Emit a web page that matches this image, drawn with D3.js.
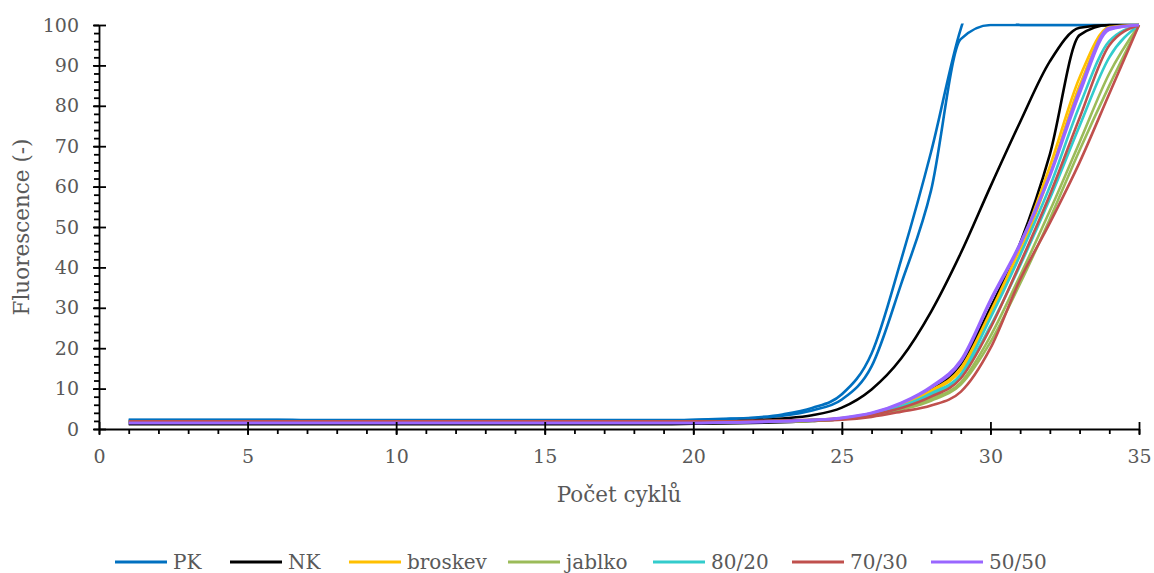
<!DOCTYPE html>
<html>
<head>
<meta charset="utf-8">
<script src="https://cdn.jsdelivr.net/npm/d3@7"></script>
<style>
  body { margin: 0; background: #fff; }
</style>
</head>
<body>
<svg id="chart" width="1154" height="573"></svg>
<script>
// cycle numbers (x axis)
const cycles = [1,2,3,4,5,6,7,8,9,10,11,12,13,14,15,16,17,18,19,20,21,22,23,24,25,26,27,28,29,30,31,32,33,34,35];

// fluorescence per cycle, two replicates for each sample
const pk1 = [2.3,2.3,2.3,2.3,2.3,2.3,2.2,2.2,2.2,2.2,2.2,2.2,2.2,2.2,2.2,2.2,2.2,2.2,2.2,2.3,2.5,2.8,3.6,5.2,8.6,18.7,42,68.5,99,115,100,100,100,100,100];
const pk2 = [2.2,2.2,2.2,2.2,2.2,2.2,2.1,2.1,2.1,2.1,2.1,2.1,2.1,2.1,2.1,2.1,2.1,2.1,2.1,2.2,2.4,2.7,3.3,4.6,7.3,15.5,36,59,96.5,100,100,100,100,100,100];
const nk1 = [1.4,1.4,1.4,1.4,1.4,1.4,1.4,1.4,1.4,1.4,1.4,1.4,1.4,1.4,1.4,1.4,1.4,1.4,1.4,1.6,1.8,2.1,2.6,3.4,5.3,9.8,17.5,29,43.5,60,76,91,99.3,100,100];
const nk2 = [1.2,1.2,1.2,1.2,1.2,1.2,1.2,1.2,1.2,1.2,1.2,1.2,1.2,1.2,1.2,1.2,1.2,1.2,1.2,1.3,1.4,1.5,1.7,2.0,2.5,3.7,5.8,9.5,16,30,46,68,97.5,100,100];
const broskev1 = [1.6,1.6,1.6,1.6,1.6,1.6,1.6,1.6,1.6,1.6,1.6,1.6,1.6,1.6,1.6,1.6,1.6,1.6,1.6,1.6,1.7,1.8,1.9,2.2,2.7,3.8,6.0,9.5,15,29,45,65,87,99.5,100];
const broskev2 = [1.6,1.6,1.6,1.6,1.6,1.6,1.6,1.6,1.6,1.6,1.6,1.6,1.6,1.6,1.6,1.6,1.6,1.6,1.6,1.6,1.7,1.8,1.9,2.1,2.6,3.7,5.8,9.2,14.5,28,43.5,63,85,99,100];
const jablko1 = [1.6,1.6,1.6,1.6,1.6,1.6,1.6,1.6,1.6,1.6,1.6,1.6,1.6,1.6,1.6,1.6,1.6,1.6,1.6,1.6,1.7,1.8,1.9,2.1,2.5,3.3,5.0,7.5,11.5,23,38,54,71,88,100];
const jablko2 = [1.6,1.6,1.6,1.6,1.6,1.6,1.6,1.6,1.6,1.6,1.6,1.6,1.6,1.6,1.6,1.6,1.6,1.6,1.6,1.6,1.7,1.8,1.9,2.0,2.4,3.2,4.8,7.0,11,21.5,36,52,69,85,100];
const k8020a = [1.7,1.7,1.7,1.7,1.7,1.7,1.7,1.7,1.7,1.7,1.7,1.7,1.7,1.7,1.7,1.7,1.7,1.7,1.7,1.7,1.8,1.9,2.0,2.2,2.6,3.6,5.6,8.8,13.5,27.5,43,60,80,96,100];
const k8020b = [1.7,1.7,1.7,1.7,1.7,1.7,1.7,1.7,1.7,1.7,1.7,1.7,1.7,1.7,1.7,1.7,1.7,1.7,1.7,1.7,1.8,1.9,2.0,2.2,2.5,3.5,5.3,8.3,13,25.5,40.5,57,75,92,100];
const k7030a = [1.9,1.9,1.9,1.9,1.9,1.9,1.9,1.9,1.9,1.9,1.9,1.9,1.9,1.9,1.9,1.9,1.9,1.9,1.9,1.9,1.9,2.0,2.1,2.3,2.6,3.5,5.2,8.0,12.5,25,41,58,77,95,100];
const k7030b = [1.8,1.8,1.8,1.8,1.8,1.8,1.8,1.8,1.8,1.8,1.8,1.8,1.8,1.8,1.8,1.8,1.8,1.8,1.8,1.8,1.8,1.9,2.0,2.1,2.3,3.0,4.3,5.8,9.2,20,37,51,66,83,100];
const k5050a = [1.5,1.5,1.5,1.5,1.5,1.5,1.5,1.5,1.5,1.5,1.5,1.5,1.5,1.5,1.5,1.5,1.5,1.5,1.5,1.5,1.6,1.7,1.9,2.2,2.8,4.0,6.5,10.5,17,32,46,63,84,99.3,100];
const k5050b = [1.5,1.5,1.5,1.5,1.5,1.5,1.5,1.5,1.5,1.5,1.5,1.5,1.5,1.5,1.5,1.5,1.5,1.5,1.5,1.5,1.6,1.7,1.9,2.2,2.7,3.9,6.3,10.2,16.5,31.5,45.5,62.5,83,98.8,100];

const legendNames = ["PK", "NK", "broskev", "jablko", "80/20", "70/30", "50/50"];
const legendColors = ["#0070C0", "#000000", "#FFC000", "#9BBB59", "#33CCCC", "#C0504D", "#9966FF"];

const xTicks = [0, 5, 10, 15, 20, 25, 30, 35];
const yTicks = [0, 10, 20, 30, 40, 50, 60, 70, 80, 90, 100];

// drawing order (later lines on top)
const lines = [
    {values: pk1, color: legendColors[0]},
    {values: pk2, color: legendColors[0]},
    {values: nk1, color: legendColors[1]},
    {values: nk2, color: legendColors[1]},
    {values: broskev1, color: legendColors[2]},
    {values: broskev2, color: legendColors[2]},
    {values: jablko1, color: legendColors[3]},
    {values: jablko2, color: legendColors[3]},
    {values: k8020a, color: legendColors[4]},
    {values: k8020b, color: legendColors[4]},
    {values: k7030a, color: legendColors[5]},
    {values: k7030b, color: legendColors[5]},
    {values: k5050a, color: legendColors[6]},
    {values: k5050b, color: legendColors[6]}
];

const svg = d3.select("#chart"),
      width = +svg.attr("width"),
      height = +svg.attr("height"),
      margin = {top: 25, right: 15, bottom: 144, left: 99};

const textColor = "#595959";
const serif = "DejaVu Serif"; // only serif face that resolves here

const x = d3.scaleLinear().domain([0, 35]).range([margin.left, width - margin.right]);
const y = d3.scaleLinear().domain([0, 100]).range([height - margin.bottom, margin.top]);

svg.append("clipPath").attr("id", "plot-clip")
    .append("rect")
    .attr("x", margin.left)
    .attr("y", margin.top - 1.5)
    .attr("width", width - margin.left - margin.right + 2)
    .attr("height", height - margin.top - margin.bottom + 2);

const lineGen = d3.line()
    .x((d, i) => x(cycles[i]))
    .y(d => y(d))
    .curve(d3.curveMonotoneX);

const plot = svg.append("g").attr("clip-path", "url(#plot-clip)");
lines.forEach(l => {
    plot.append("path")
        .datum(l.values)
        .attr("d", lineGen)
        .attr("fill", "none")
        .attr("stroke", l.color)
        .attr("stroke-width", 2.6)
        .attr("stroke-linejoin", "round");
});

function styleAxis(g) {
    g.attr("font-family", serif).attr("font-size", 19);
    g.selectAll("path, line").attr("stroke", "#000").attr("stroke-width", 1.8);
    g.selectAll("text").attr("fill", textColor);
}

// y axis: minor ticks, major ticks crossing the line
svg.append("g")
    .attr("transform", `translate(${margin.left},0)`)
    .call(d3.axisLeft(y).tickValues(d3.range(0, 101, 2)).tickSize(5).tickFormat(""))
    .call(g => g.select(".domain").remove())
    .call(styleAxis);
svg.append("g")
    .attr("transform", `translate(${margin.left},0)`)
    .call(d3.axisRight(y).tickValues(yTicks).tickSize(7).tickFormat(""))
    .call(g => g.select(".domain").remove())
    .call(styleAxis);
svg.append("g")
    .attr("transform", `translate(${margin.left},0)`)
    .call(d3.axisLeft(y).tickValues(yTicks).tickSizeInner(6).tickSizeOuter(0).tickPadding(14))
    .call(styleAxis);

// x axis
svg.append("g")
    .attr("transform", `translate(0,${y(0)})`)
    .call(d3.axisBottom(x).tickValues(d3.range(0, 36, 1)).tickSize(5).tickFormat(""))
    .call(g => g.select(".domain").remove())
    .call(styleAxis);
svg.append("g")
    .attr("transform", `translate(0,${y(0)})`)
    .call(d3.axisTop(x).tickValues(xTicks).tickSize(7).tickFormat(""))
    .call(g => g.select(".domain").remove())
    .call(styleAxis);
svg.append("g")
    .attr("transform", `translate(0,${y(0)})`)
    .call(d3.axisBottom(x).tickValues(xTicks).tickSizeInner(6).tickSizeOuter(0).tickPadding(15))
    .call(styleAxis);

// axis titles
svg.append("text")
    .attr("x", (margin.left + width - margin.right) / 2)
    .attr("y", 502)
    .attr("text-anchor", "middle")
    .attr("fill", textColor)
    .attr("font-family", serif)
    .attr("font-size", 21.5)
    .text("Počet cyklů");

svg.append("text")
    .attr("transform", "rotate(-90)")
    .attr("x", -(margin.top + height - margin.bottom) / 2)
    .attr("y", 29)
    .attr("text-anchor", "middle")
    .attr("fill", textColor)
    .attr("font-family", serif)
    .attr("font-size", 21.5)
    .text("Fluorescence (-)");

// legend
const legendX = [115, 230, 349, 508, 653, 792, 931];
const legend = svg.append("g");
legendNames.forEach((name, i) => {
    legend.append("line")
        .attr("x1", legendX[i]).attr("x2", legendX[i] + 52)
        .attr("y1", 562).attr("y2", 562)
        .attr("stroke", legendColors[i])
        .attr("stroke-width", 3);
    legend.append("text")
        .attr("x", legendX[i] + 58)
        .attr("y", 569)
        .attr("fill", textColor)
        .attr("font-family", serif)
        .attr("font-size", 20)
        .text(name);
});
</script>
</body>
</html>
